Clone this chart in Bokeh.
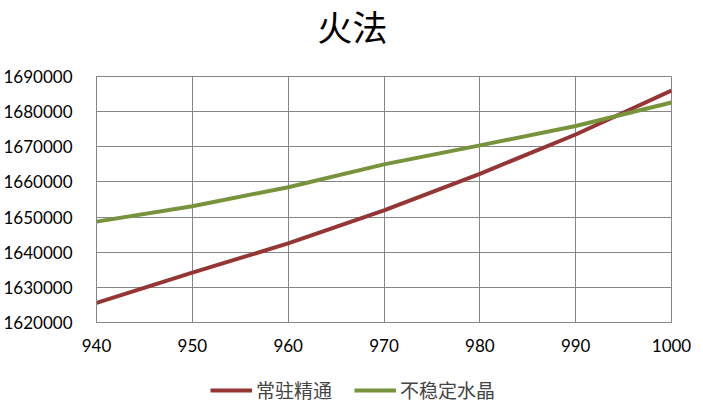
from bokeh.plotting import figure
from bokeh.layouts import column
from bokeh.core.properties import value
from bokeh.models import Range1d, FixedTicker, BasicTickFormatter, Legend, LegendItem
from bokeh.embed import file_html
from bokeh.resources import INLINE

x_values = [940, 950, 960, 970, 980, 990, 1000]
changzhu_jingtong = [1625600, 1634200, 1642500, 1651900, 1662300, 1673500, 1686000]
buwending_shuijing = [1648700, 1653100, 1658500, 1665000, 1670400, 1675900, 1682600]
x_ticks = [940, 950, 960, 970, 980, 990, 1000]
y_ticks = [1620000, 1630000, 1640000, 1650000, 1660000, 1670000, 1680000, 1690000]
series_names = ["常驻精通", "不稳定水晶"]
title_text = "火法"
colors = ["#963634", "#77933C"]

# title strip
p0 = figure(width=703, height=60, output_backend="svg", toolbar_location=None,
            x_range=Range1d(940, 1000), y_range=Range1d(0, 1),
            x_axis_type=None, y_axis_type=None,
            min_border_left=0, min_border_right=0, min_border_top=0, min_border_bottom=0)
p0.outline_line_color = None
p0.text(x=[966.7], y=[0.58], text=[title_text], text_align="center", text_baseline="middle",
        text_font=value("Noto Sans CJK SC"), text_font_size="35px", text_color="#000000")

p = figure(width=703, height=310, output_backend="svg", toolbar_location=None,
           x_range=Range1d(940, 1000), y_range=Range1d(1620000, 1690000),
           min_border_left=96, min_border_right=32, min_border_top=16, min_border_bottom=48)

grid_col = "#868686"
p.outline_line_color = grid_col
p.xgrid.grid_line_color = grid_col
p.ygrid.grid_line_color = grid_col
p.xgrid.ticker = FixedTicker(ticks=x_ticks)
p.ygrid.ticker = FixedTicker(ticks=y_ticks)

for ax in (p.xaxis[0], p.yaxis[0]):
    ax.axis_line_color = grid_col
    ax.major_tick_line_color = None
    ax.minor_tick_line_color = None
    ax.major_label_text_font = "Lato"
    ax.major_label_text_font_size = "17px"
    ax.major_label_text_color = "#000000"
    ax.formatter = BasicTickFormatter(use_scientific=False)
p.xaxis[0].ticker = FixedTicker(ticks=x_ticks)
p.yaxis[0].ticker = FixedTicker(ticks=y_ticks)
p.xaxis[0].major_label_standoff = 10
p.yaxis[0].major_label_standoff = 18

p.line(x_values, changzhu_jingtong, line_color=colors[0], line_width=4)
p.line(x_values, buwending_shuijing, line_color=colors[1], line_width=4)

# legend strip below the chart (its lines lie outside the visible range)
p2 = figure(width=703, height=35, output_backend="svg", toolbar_location=None,
            x_range=Range1d(0, 1), y_range=Range1d(0, 1),
            x_axis_type=None, y_axis_type=None,
            min_border_left=0, min_border_right=0, min_border_top=0, min_border_bottom=0)
p2.outline_line_color = None
l1 = p2.line(x_values, changzhu_jingtong, line_color=colors[0], line_width=4)
l2 = p2.line(x_values, buwending_shuijing, line_color=colors[1], line_width=4)

legend = Legend(items=[LegendItem(label=series_names[0], renderers=[l1]),
                       LegendItem(label=series_names[1], renderers=[l2])],
                orientation="horizontal", location=(114, 2),
                label_text_font="Noto Sans CJK SC", label_text_font_size="19px",
                glyph_width=42, spacing=22, label_standoff=4,
                background_fill_alpha=0, border_line_color=None, padding=0, margin=0)
p2.add_layout(legend, "center")

layout = column(p0, p, p2, spacing=0)
open("out.html", "w").write(file_html(layout, INLINE))
